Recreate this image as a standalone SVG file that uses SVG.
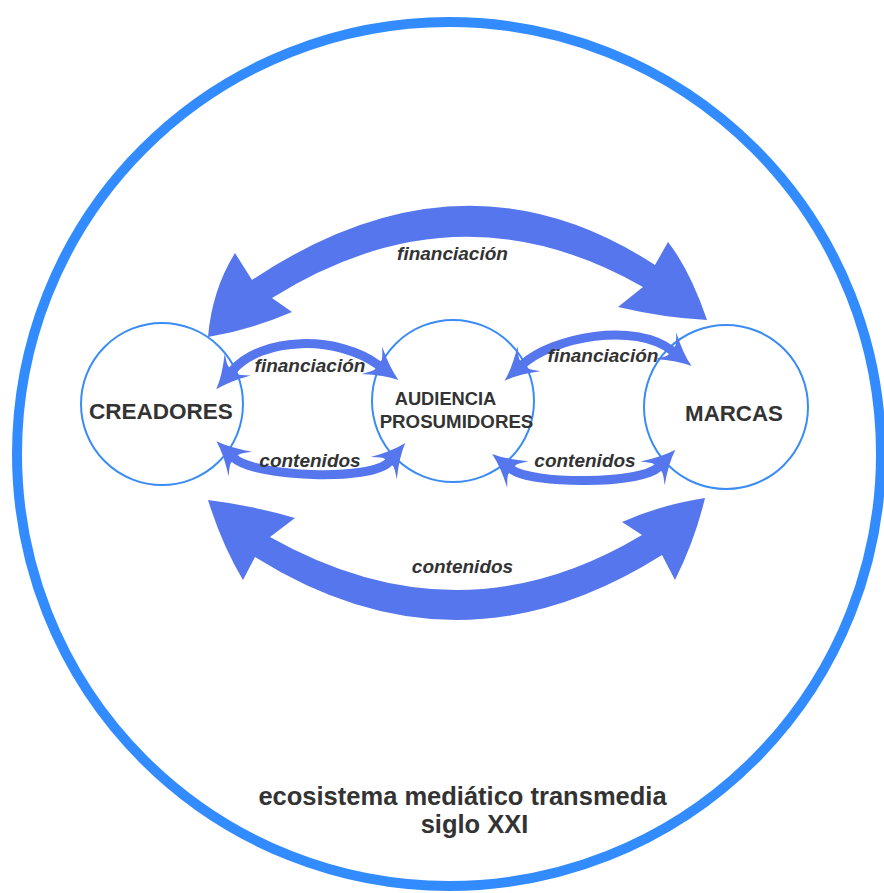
<svg xmlns="http://www.w3.org/2000/svg" width="884" height="893" viewBox="0 0 884 893">
  <style>
    .ring { fill: none; stroke: #338CFF; stroke-width: 10; }
    .node { fill: #FFFFFF; stroke: #3A8CF5; stroke-width: 2; }
    .big { fill: #5576EC; stroke: none; }
    .small { fill: none; stroke: #5576EC; stroke-width: 9; marker-start: url(#head); marker-end: url(#head); }
    .t { font-family: "Liberation Sans", Arial, sans-serif; font-weight: bold; fill: #333333; text-anchor: middle; }
    .lbl { font-family: "Liberation Sans", Arial, sans-serif; font-weight: bold; font-style: italic; fill: #333333; text-anchor: middle; font-size: 19px; }
  </style>
  <defs>
    <marker id="head" markerUnits="userSpaceOnUse" markerWidth="44" markerHeight="44" viewBox="-8 -20 40 40" refX="3" refY="0" orient="auto-start-reverse" overflow="visible">
      <path d="M 25 0 Q 12 -4 -5 -15.5 Q 2 -7 2 -5 L 2 5 Q 2 7 -5 15.5 Q 12 4 25 0 Z" fill="#5576EC"/>
    </marker>
  </defs>

  <circle id="ecosistema" class="ring" cx="449" cy="454" r="432"/>

  <g id="creadores">
    <circle class="node" cx="162" cy="404" r="81"/>
    <text class="t" x="161" y="419" font-size="22.5">CREADORES</text>
  </g>
  <g id="audiencia">
    <circle class="node" cx="453" cy="401" r="81"/>
    <text class="t" x="445.5" y="405" font-size="18.3">AUDIENCIA</text>
    <text class="t" x="456.5" y="428" font-size="18.7">PROSUMIDORES</text>
  </g>
  <g id="marcas">
    <circle class="node" cx="726" cy="407" r="82"/>
    <text class="t" x="734" y="421" font-size="22.3">MARCAS</text>
  </g>

  <g id="connectors">
    <path class="big" d="M 252 280 L 235 253 Q 212 290 208 337 Q 250 330 292 312 L 272 298 Q 458.5 181.5 643 287 L 618 307 Q 665 318 707 320 Q 690 270 668 242 L 655 265 Q 462.5 139.5 252 280 Z"/>
    <path class="big" d="M 270 537 L 295 518 Q 250 505 208 500 Q 222 545 243 580 L 255 557 Q 457.5 684 662 555 L 675 580 Q 695 540 705 498 Q 660 505 622 522 L 642 535 Q 460 644 270 537 Z"/>
    <path class="small" d="M 232 371 C 262 336 338 335 379 365.5"/>
    <path class="small" d="M 234 458 C 254 477 372 482 389.5 461.5"/>
    <path class="small" d="M 522.5 364.5 C 552.5 337.5 634.5 321 672.5 351"/>
    <path class="small" d="M 511 469 C 531 485 641.5 484.5 658.5 467"/>
  </g>

  <g id="labels">
    <text class="lbl" x="452.5" y="260">financiación</text>
    <text class="lbl" x="462.5" y="573">contenidos</text>
    <text class="lbl" x="310" y="372">financiación</text>
    <text class="lbl" x="310" y="467">contenidos</text>
    <text class="lbl" x="603" y="362">financiación</text>
    <text class="lbl" x="585" y="467">contenidos</text>
  </g>

  <g id="titulo">
    <text class="t" x="462.5" y="805" font-size="25.5">ecosistema mediático transmedia</text>
    <text class="t" x="474.5" y="833" font-size="25.5">siglo XXI</text>
  </g>
</svg>
